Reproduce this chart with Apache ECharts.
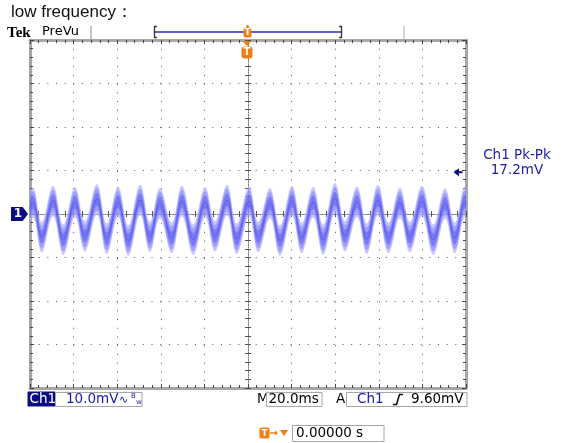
<!DOCTYPE html>
<html><head><meta charset="utf-8">
<script src="https://cdn.jsdelivr.net/npm/echarts@6/dist/echarts.min.js"></script>
<style>html,body{margin:0;padding:0;background:#fff}#c{width:566px;height:443px}</style>
</head><body><div id="c"></div>
<script>
// ---- data (time in ms, voltage in mV) ----
const titleText = 'low frequency：';
const timeRange = [-100, 100];      // 10 div x 20.0 ms
const voltRange = [-40, 40];        // 8 div x 10.0 mV
const timeDiv = 20;
const voltDiv = 10;
const peakTimes = [-98.6, -89.4, -79.4, -69.3, -59.6, -49.5, -40.4, -30.3, -19.7, -9.6, 0.5, 10.1, 20.2, 29.9, 39.9, 50.0, 59.6, 69.7, 79.8, 90.4, 99.5];
const peakValues = [2.6, 3.0, 2.7, 3.4, 2.8, 3.2, 2.5, 3.0, 2.7, 3.2, 2.9, 2.5, 3.0, 2.7, 3.6, 2.8, 3.2, 2.6, 3.0, 2.4, 2.8];
const troughTimes = [-103.8, -94.6, -84.7, -74.8, -64.8, -54.9, -45.0, -35.0, -25.1, -15.1, -5.2, 4.7, 14.7, 24.6, 34.5, 44.5, 54.5, 64.4, 74.3, 85.0, 94.9, 104.2];
const troughValues = [-5.5, -5.3, -5.9, -5.1, -5.7, -6.1, -5.3, -5.5, -5.9, -5.1, -5.7, -5.3, -6.1, -5.5, -5.9, -5.1, -5.7, -5.5, -5.3, -5.9, -5.5, -5.5];
const outerNoise = 3.5;   // half width of the faint noisy trace band, mV
const midNoise = 2.6;     // half width of the medium band, mV
const innerNoise = 1.5;   // half width of the dense core, mV
const triggerLevel = 9.6;
const measureName = 'Ch1 Pk-Pk';
const measureValue = '17.2mV';
const chLabel = 'Ch1';
const chScale = '10.0mV';
const timeScale = '20.0ms';
const trigSource = 'Ch1';
const trigLevelText = '9.60mV';
const trigPosText = '0.00000 s';

const signal = peakTimes.map((t, i) => [t, peakValues[i]])
  .concat(troughTimes.map((t, i) => [t, troughValues[i]]))
  .sort((a, b) => a[0] - b[0]);

const NAVY = '#0c0c84', BLUE = '#1c1ca6', ORANGE = '#f27d12', GRAYB = '#a6a6a6';
const FONT = '13.5px "DejaVu Sans"';

const chart = echarts.init(document.getElementById('c'), null, {renderer: 'canvas'});

const G = {left: 30, top: 40, right: 100, bottom: 55};
function frameX(pos) {
  return {type: 'value', gridIndex: 0, min: timeRange[0], max: timeRange[1], interval: timeDiv, position: pos,
    axisLine: {show: true, onZero: false, lineStyle: {color: GRAYB, width: 3}},
    axisTick: {show: true, inside: true, length: 4, lineStyle: {color: '#444', width: 1}},
    minorTick: {show: true, splitNumber: 5, length: 3, lineStyle: {color: '#444', width: 1}},
    axisLabel: {show: false}, splitLine: {show: false}};
}
function frameY(pos) {
  return {type: 'value', gridIndex: 0, min: voltRange[0], max: voltRange[1], interval: voltDiv, position: pos,
    axisLine: {show: true, onZero: false, lineStyle: {color: GRAYB, width: 3}},
    axisTick: {show: true, inside: true, length: 4, lineStyle: {color: '#444', width: 1}},
    minorTick: {show: true, splitNumber: 5, length: 3, lineStyle: {color: '#444', width: 1}},
    axisLabel: {show: false}, splitLine: {show: false}};
}
function centerX(gi, inside, split) {
  return {type: 'value', gridIndex: gi, min: timeRange[0], max: timeRange[1], interval: timeDiv,
    axisLine: {show: true, onZero: true, lineStyle: {color: '#7c7c7c', width: 1, type: [1, 1.5]}},
    axisTick: {show: true, inside: inside, length: 3, lineStyle: {color: '#555'}},
    minorTick: {show: true, splitNumber: 5, length: 3, lineStyle: {color: '#555'}},
    axisLabel: {show: false},
    splitLine: {show: split, lineStyle: {color: '#555', width: 1, type: [1, 7.72]}}};
}
function centerY(gi, inside, split) {
  return {type: 'value', gridIndex: gi, min: voltRange[0], max: voltRange[1], interval: voltDiv,
    axisLine: {show: true, onZero: true, lineStyle: {color: '#7c7c7c', width: 1, type: [1, 1.5]}},
    axisTick: {show: true, inside: inside, length: 3, lineStyle: {color: '#555'}},
    minorTick: {show: true, splitNumber: 5, length: 3, lineStyle: {color: '#555'}},
    axisLabel: {show: false},
    splitLine: {show: split, lineStyle: {color: '#555', width: 1, type: [1, 7.68]}}};
}

const txt = (text, x, y, opt) => Object.assign({type: 'text', silent: true, style: Object.assign({
  text, x, y, font: FONT, fill: '#000', textVerticalAlign: 'middle', verticalAlign: 'middle'}, opt || {})});
const box = (x, y, w, h, fill, stroke) => ({type: 'rect', silent: true, shape: {x, y, width: w, height: h},
  style: {fill: fill || '#fff', stroke: stroke || GRAYB, lineWidth: 1}});
const ln = (pts, color, w) => ({type: 'polyline', silent: true, shape: {points: pts}, style: {stroke: color, lineWidth: w, fill: null}});

const graphics = [
  txt(titleText, 11, 12, {font: '17px "Liberation Sans"', fill: '#111'}),
  txt('Tek', 7, 33, {font: 'bold 15px "Liberation Serif"'}),
  txt('PreVu', 42, 32, {font: '13px "DejaVu Sans"'}),
  ln([[91, 26], [91, 40]], '#8a8a8a', 1),
  ln([[157, 26.5], [154.5, 26.5], [154.5, 37.5], [157, 37.5]], '#333', 1.3),
  ln([[155, 32], [341, 32]], '#2a2ab6', 1.5),
  ln([[339, 26.5], [341.5, 26.5], [341.5, 37.5], [339, 37.5]], '#333', 1.3),
  ln([[404, 26], [404, 40]], '#d6d6d6', 2),
  {type: 'circle', silent: true, shape: {cx: 247.5, cy: 26.5, r: 1.5}, style: {fill: ORANGE}},
  {type: 'rect', silent: true, shape: {x: 243.5, y: 27.5, width: 8, height: 10, r: 2}, style: {fill: ORANGE}},
  txt('T', 247.5, 33, {font: 'bold 9px "DejaVu Sans"', fill: '#fff', textAlign: 'center', align: 'center'}),
  txt(measureName, 517, 155, {fill: BLUE, textAlign: 'center', align: 'center'}),
  txt(measureValue, 517, 170, {fill: BLUE, textAlign: 'center', align: 'center'}),
  // status bar
  box(28, 392, 27, 14, NAVY, NAVY),
  txt(chLabel, 29.5, 399.5, {fill: '#fff'}),
  box(55.5, 392.5, 86.5, 14),
  txt(chScale, 66, 399.5, {fill: BLUE}),
  txt('∿', 119, 400, {font: '11px "DejaVu Sans"', fill: BLUE}),
  txt('B', 131, 396, {font: '7px "DejaVu Sans"', fill: BLUE}),
  txt('w', 136, 402, {font: '7px "DejaVu Sans"', fill: BLUE}),
  txt('M', 257, 399.5, {}),
  box(266.5, 392.5, 55.5, 14),
  txt(timeScale, 268.5, 399.5, {}),
  txt('A', 336, 399.5, {}),
  box(346.5, 392.5, 120.5, 14),
  txt(trigSource, 357, 399.5, {fill: BLUE}),
  ln([[393, 404.5], [396.5, 404.5], [399.5, 394.5], [403, 394.5]], '#111', 1.6),
  txt(trigLevelText, 411, 399.5, {}),
  // trigger position readout
  {type: 'rect', silent: true, shape: {x: 259.5, y: 427.5, width: 10, height: 11, r: 2}, style: {fill: ORANGE}},
  txt('T', 264.5, 433.5, {font: 'bold 9px "DejaVu Sans"', fill: '#fff', textAlign: 'center', align: 'center'}),
  ln([[270, 433], [277, 433]], ORANGE, 1.5),
  {type: 'polygon', silent: true, shape: {points: [[275, 430.5], [278, 433], [275, 435.5]]}, style: {fill: ORANGE}},
  {type: 'polygon', silent: true, shape: {points: [[280, 430], [288, 430], [284, 436]]}, style: {fill: ORANGE}},
  box(292.5, 425.5, 91.5, 16),
  txt(trigPosText, 296, 433.5, {})
];

// noisy trace drawn as a band around the signal, through the axis scales
const bandSeries = (name, half, color) => ({
  type: 'custom', name: name, coordinateSystem: 'cartesian2d', xAxisIndex: 2, yAxisIndex: 2,
  data: [[0, 0]], silent: true, animation: false,
  renderItem: function (params, api) {
    const cs = params.coordSys;
    const up = signal.map(p => api.coord([p[0], p[1] + half]));
    const lo = signal.map(p => api.coord([p[0], p[1] - half])).reverse();
    return {type: 'polygon', shape: {points: up.concat(lo), smooth: 0.4},
      style: {fill: color},
      clipPath: {type: 'rect', shape: {x: cs.x, y: cs.y, width: cs.width, height: cs.height}}};
  }
});

chart.setOption({
  animation: false,
  backgroundColor: '#fff',
  grid: [Object.assign({show: false}, G), Object.assign({show: false}, G), Object.assign({show: false}, G)],
  xAxis: [frameX('bottom'), frameX('top'), centerX(1, false, true), centerX(2, true, false)],
  yAxis: [frameY('left'), frameY('right'), centerY(1, false, true), centerY(2, true, false)],
  graphic: {elements: graphics},
  series: [
    bandSeries('outer', outerNoise, 'rgba(175,175,255,0.7)'),
    bandSeries('mid', midNoise, 'rgba(120,120,248,0.5)'),
    bandSeries('inner', innerNoise, 'rgba(75,75,235,0.45)'),
    {type: 'line', name: 'Ch1', xAxisIndex: 2, yAxisIndex: 2, data: signal, symbol: 'none', smooth: 0.4,
      silent: true, lineStyle: {width: 0.8, color: 'rgba(40,40,215,0.4)'}, animation: false,
      markPoint: {silent: true, animation: false, data: [
        {coord: [timeRange[0], 0], symbol: 'path://M0,0L11,0L16,7L11,14L0,14Z', symbolSize: [17, 14],
          symbolOffset: [-10.5, 0], itemStyle: {color: NAVY},
          label: {show: true, formatter: '1', color: '#fff', fontWeight: 'bold', fontSize: 12, fontFamily: 'DejaVu Sans', offset: [-1.5, 0]}},
        {coord: [timeRange[1], triggerLevel], symbol: 'path://M0,4L6,0L6,3L10,3L10,5L6,5L6,8Z', symbolSize: [9, 8],
          symbolOffset: [-8, 0], itemStyle: {color: NAVY}, label: {show: false}},
        {coord: [0, voltRange[1]], symbol: 'triangle', symbolRotate: 180, symbolSize: [9, 5],
          symbolOffset: [-1, 3.5], itemStyle: {color: ORANGE}, label: {show: false}},
        {coord: [0, voltRange[1]], symbol: 'roundRect', symbolSize: [11, 12],
          symbolOffset: [-1, 12.5], itemStyle: {color: ORANGE},
          label: {show: true, formatter: 'T', color: '#fff', fontWeight: 'bold', fontSize: 10, fontFamily: 'DejaVu Sans'}}
      ]}}
  ]
});
</script></body></html>
